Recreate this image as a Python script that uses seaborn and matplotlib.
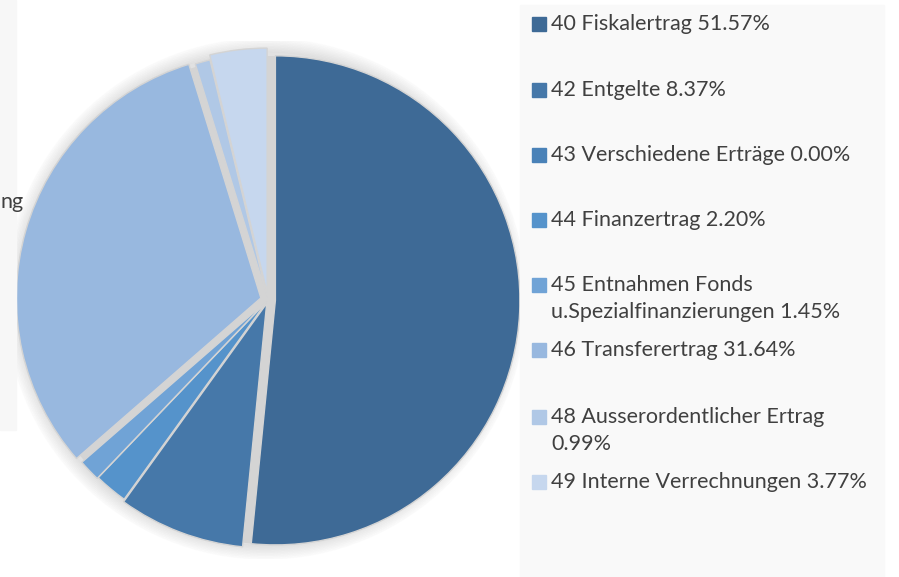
import matplotlib
matplotlib.use("Agg")
import matplotlib.pyplot as plt
import seaborn as sns
from matplotlib.patches import Rectangle, Circle

# Werte aus dem Diagramm (Anteile in %)
kategorien = ["40 Fiskalertrag", "42 Entgelte", "43 Verschiedene Erträge",
              "44 Finanzertrag", "45 Entnahmen Fonds\nu.Spezialfinanzierungen",
              "46 Transferertrag", "48 Ausserordentlicher Ertrag\n",
              "49 Interne Verrechnungen"]
anteile = [51.57, 8.37, 0.00, 2.20, 1.45, 31.64, 0.99, 3.77]
farben = ["#3e6a96", "#4678a9", "#4a82b8", "#5593cb",
          "#70a3d6", "#98b8df", "#b0c8e6", "#c6d7ee"]

sns.set_theme(style="white")
plt.rcParams['font.family'] = ['Lato', 'DejaVu Sans']

fig = plt.figure(figsize=(8.99, 5.77), dpi=100)

# Hintergrund links (abgeschnittener Bereich) und Legendenfläche
fig.patches.append(Rectangle((0, 1 - 430 / 577), 16 / 899, 430 / 577,
                             transform=fig.transFigure, color="#f7f7f7", zorder=0))
fig.text(0.0, 1 - 202 / 577, "ng", fontsize=15.5, color="#404040", va="center")
fig.patches.append(Rectangle((520 / 899, 0), 364 / 899, 572 / 577,
                             transform=fig.transFigure, color="#f9f9f9", zorder=0))

R = 247  # Radius in Pixel
ax = fig.add_axes([(268 - 1.05 * R) / 899, (277 - 1.05 * R) / 577,
                   2.1 * R / 899, 2.1 * R / 577])

# weicher Schatten
for i in range(10):
    ax.add_patch(Circle((-0.01, 0.005), 1.0 + i * 0.006, color="#000000",
                        alpha=0.01, zorder=0))
ax.add_patch(Circle((0, 0), 0.985, color="#d4d4d4", zorder=1))

explode = [0.03, 0.015, 0, 0.005, 0.01, 0.03, 0.01, 0.03]
werte = [max(a, 1e-6) for a in anteile]
wedges, _ = ax.pie(werte, colors=farben, startangle=90, counterclock=False,
                   explode=explode, radius=0.99,
                   wedgeprops=dict(edgecolor="#d4d4d4", linewidth=1.0))
for w in wedges:
    w.set_zorder(2)
ax.set_xlim(-1.05, 1.05)
ax.set_ylim(-1.05, 1.05)
ax.set_aspect("equal")
ax.axis("off")

# Legende
y_pos = [24, 90, 155, 220, 285, 350, 417, 482]
for name, wert, farbe, y in zip(kategorien, anteile, farben, y_pos):
    if name.endswith("\n"):
        label = name + f"{wert:.2f}%"
    else:
        label = f"{name} {wert:.2f}%"
    fig.patches.append(Rectangle((532 / 899, 1 - (y + 7) / 577), 14 / 899, 14 / 577,
                                 transform=fig.transFigure, color=farbe, zorder=2))
    fig.text(551 / 899, 1 - (y - 10) / 577, label, fontsize=15.5, color="#404040",
             va="top", ha="left", linespacing=1.42)

fig.savefig("out.png", dpi=100)
